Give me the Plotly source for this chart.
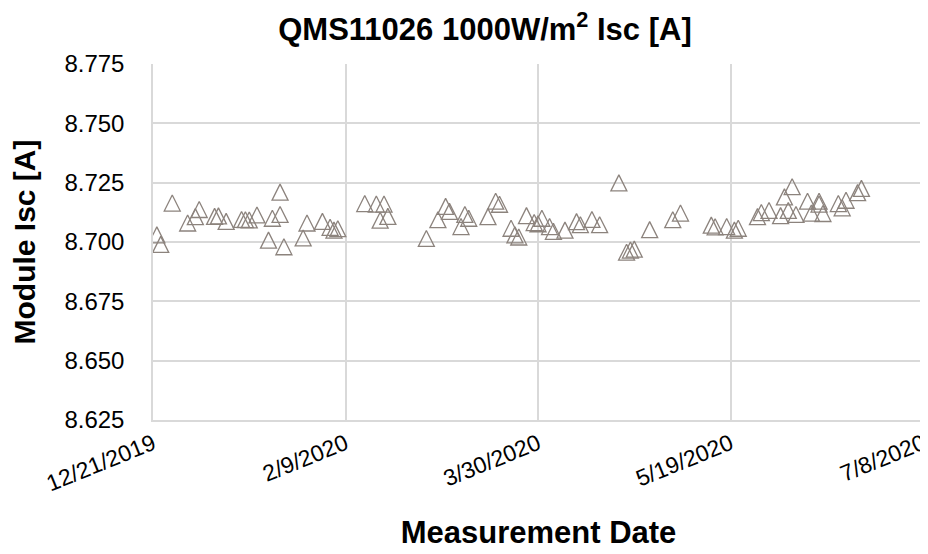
import plotly.graph_objects as go

dates = [
    "2019-12-22", "2019-12-23", "2019-12-26", "2019-12-30", "2020-01-01", "2020-01-02",
    "2020-01-06", "2020-01-07", "2020-01-09", "2020-01-13", "2020-01-14", "2020-01-15",
    "2020-01-17", "2020-01-20", "2020-01-21", "2020-01-23", "2020-01-23", "2020-01-24",
    "2020-01-29", "2020-01-30", "2020-02-03", "2020-02-05", "2020-02-06", "2020-02-07",
    "2020-02-14", "2020-02-17", "2020-02-18", "2020-02-19", "2020-02-20",
    "2020-03-01", "2020-03-04", "2020-03-06", "2020-03-07", "2020-03-10", "2020-03-11",
    "2020-03-12", "2020-03-17", "2020-03-19", "2020-03-20", "2020-03-23", "2020-03-24",
    "2020-03-25", "2020-03-27", "2020-03-29",
    "2020-03-30", "2020-03-31", "2020-04-02", "2020-04-03", "2020-04-06", "2020-04-09",
    "2020-04-10", "2020-04-13", "2020-04-15", "2020-04-20", "2020-04-22", "2020-04-23",
    "2020-04-24", "2020-04-28", "2020-05-04", "2020-05-06", "2020-05-14", "2020-05-15",
    "2020-05-18", "2020-05-20", "2020-05-21", "2020-05-26", "2020-05-27", "2020-05-29",
    "2020-06-01", "2020-06-02", "2020-06-03", "2020-06-04", "2020-06-05", "2020-06-08",
    "2020-06-09", "2020-06-11", "2020-06-11", "2020-06-12", "2020-06-16", "2020-06-17",
    "2020-06-18", "2020-06-21", "2020-06-22",
]
isc = [
    8.7030, 8.6990, 8.7164, 8.7080, 8.7107, 8.7137,
    8.7108, 8.7110, 8.7087, 8.7095, 8.7094, 8.7093,
    8.7114, 8.7008, 8.7100, 8.7210, 8.7116, 8.6980,
    8.7017, 8.7080, 8.7087, 8.7062, 8.7050, 8.7056,
    8.7162, 8.7160, 8.7092, 8.7160, 8.7108,
    8.7015, 8.7094, 8.7150, 8.7129, 8.7065, 8.7116,
    8.7100, 8.7107, 8.7172, 8.7159, 8.7058, 8.7030,
    8.7021, 8.7111, 8.7082,
    8.7077, 8.7100, 8.7065, 8.7045, 8.7050, 8.7086,
    8.7073, 8.7095, 8.7073, 8.7249, 8.6957, 8.6966,
    8.6970, 8.7052, 8.7094, 8.7122, 8.7071, 8.7064,
    8.7065, 8.7050, 8.7058, 8.7107, 8.7124, 8.7133,
    8.7111, 8.7190, 8.7133, 8.7233, 8.7116, 8.7172,
    8.7122, 8.7172, 8.7160, 8.7120, 8.7162, 8.7144,
    8.7176, 8.7208, 8.7226,
]

tick_dates = ["2019-12-21", "2020-02-09", "2020-03-30", "2020-05-19", "2020-07-08"]
tick_labels = ["12/21/2019", "2/9/2020", "3/30/2020", "5/19/2020", "7/8/2020"]

fig = go.Figure()
# Excel-style triangle: arrow-down flipped and re-centred on the point
fig.add_trace(go.Scatter(
    x=dates, y=isc, mode="markers",
    marker=dict(symbol="arrow-down-open", angle=180, standoff=8, size=16,
                color="#8c837d", line=dict(width=1.3)),
))

fig.update_layout(
    width=928, height=554,
    margin=dict(l=145, r=12, t=56, b=142),
    plot_bgcolor="white", paper_bgcolor="white",
    font=dict(family="Liberation Sans, Arial", color="black", size=24),
    showlegend=False,
    title=dict(text="<b>QMS11026 1000W/m<sup>2</sup> Isc [A]</b>", x=0.514, xanchor="center",
               xref="container", y=0.962, yanchor="middle", font=dict(size=31)),
)
fig.update_xaxes(
    type="date", range=["2019-12-21", "2020-07-08 06:00"],
    tickvals=tick_dates, ticktext=tick_labels, ticklabeloverflow="allow",
    tickangle=-22, tickfont=dict(size=23), showgrid=True, gridcolor="#d9d9d9", gridwidth=1.5,
    showline=True, linecolor="#d9d9d9", linewidth=1.5, ticks="", automargin=False,
    title=dict(text="<b>Measurement Date</b>", font=dict(size=31), standoff=26),
)
fig.update_yaxes(
    range=[8.625, 8.775], dtick=0.025, tickformat=".3f",
    showgrid=True, gridcolor="#d9d9d9", gridwidth=1.5, zeroline=False,
    showline=True, linecolor="#d9d9d9", linewidth=1.5, ticks="", automargin=False,
    ticklabelstandoff=22,
    title=dict(text="<b>Module Isc [A]</b>", font=dict(size=30), standoff=20),
)

fig.write_html("out.html")
